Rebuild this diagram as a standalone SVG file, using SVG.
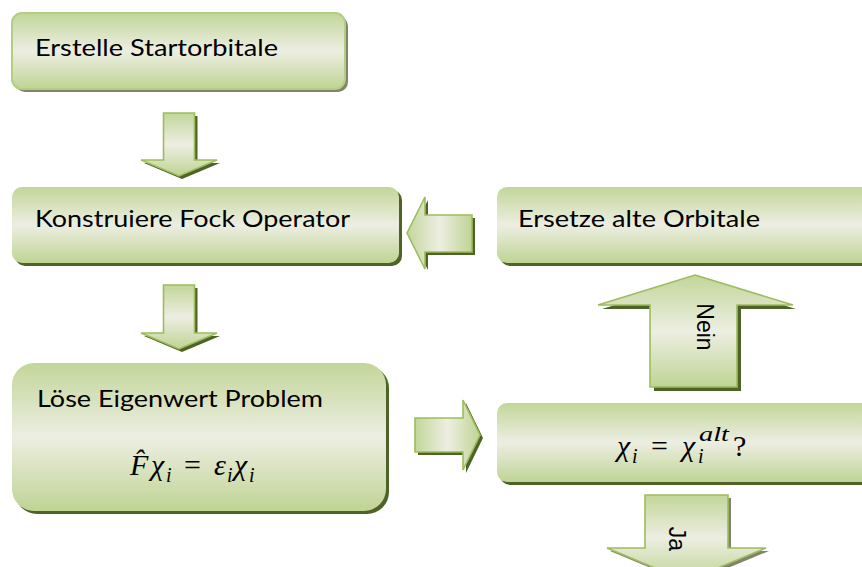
<svg xmlns="http://www.w3.org/2000/svg" width="862" height="567" viewBox="0 0 862 567">
  <defs>
    <!-- vertical sheen used by boxes and vertical arrows -->
    <linearGradient id="gV" x1="0" y1="0" x2="0" y2="1">
      <stop offset="0" stop-color="#c2d699"/>
      <stop offset="0.5" stop-color="#edeee2"/>
      <stop offset="1" stop-color="#bfd494"/>
    </linearGradient>
    <!-- horizontal sheen used by left/right arrows -->
    <linearGradient id="gH" x1="0" y1="0" x2="1" y2="0">
      <stop offset="0" stop-color="#c2d699"/>
      <stop offset="0.5" stop-color="#edeee2"/>
      <stop offset="1" stop-color="#bfd494"/>
    </linearGradient>
    <style>
      .box { fill: url(#gV); }
      .shadow { fill: #4f6228; }
      .gshadow { fill: #80846c; }
      .arrV { fill: url(#gV); stroke: #9dbd5c; stroke-width: 1.6; stroke-linejoin: miter; }
      .arrH { fill: url(#gH); stroke: #9dbd5c; stroke-width: 1.6; stroke-linejoin: miter; }
      .lbl { font-family: Lato, "Noto Sans", "Liberation Sans", sans-serif; font-size: 23px; fill: #000; }
      .math { font-family: "Liberation Serif", "DejaVu Serif", serif; font-style: italic; font-size: 30px; fill: #000; }
      .up { font-style: normal; }
      .sub { font-size: 20px; }
      .side { font-family: "Liberation Sans", Arial, sans-serif; font-size: 23px; fill: #000; }
    </style>
  </defs>

  <!-- connectors -->
  <g id="connectors">
    <!-- start -> Fock -->
    <g id="arrow-start-fock">
      <path class="shadow" d="M166.5,116 H197.5 V163 H220 L182,179 L144,163 H166.5 Z"/>
      <path class="arrV" d="M163.5,113 H194.5 V160 H217 L179,176 L141,160 H163.5 Z"/>
    </g>
    <!-- Fock -> eigenvalue -->
    <g id="arrow-fock-eigen">
      <path class="shadow" d="M166.5,288 H197.5 V336 H220 L182,352 L144,336 H166.5 Z"/>
      <path class="arrV" d="M163.5,285 H194.5 V333 H217 L179,349 L141,333 H163.5 Z"/>
    </g>
    <!-- replace orbitals -> Fock -->
    <g id="arrow-replace-fock">
      <path class="shadow" d="M410,236 L428,200 V218 H475 V255 H428 V270 Z"/>
      <path class="arrH" d="M407,233 L425,197 V215 H472 V252 H425 V269 Z"/>
    </g>
    <!-- eigenvalue -> check -->
    <g id="arrow-eigen-check">
      <path class="shadow" d="M418,421 H466 V403 L483,438 L466,473 V455 H418 Z"/>
      <path class="arrH" d="M415,418 H463 V400 L480,435 L463,470 V452 H415 Z"/>
    </g>
    <!-- check -> replace (Nein) -->
    <g id="arrow-nein">
      <path class="shadow" d="M698,279 L796,309 H741 V391 H654 V309 H602 Z"/>
      <path class="arrV" d="M695,275 L793,305 H737 V387 H650 V305 H598 Z"/>
      <text class="side" transform="translate(697,327) rotate(90)" text-anchor="middle">Nein</text>
    </g>
    <!-- check -> done (Ja) -->
    <g id="arrow-ja">
      <path class="gshadow" d="M648,498 H731 V551 H769 L689,584 L610,551 H648 Z"/>
      <path class="arrV" d="M645,495 H728 V548 H766 L686,581 L607,548 H645 Z"/>
      <text class="side" transform="translate(669,539) rotate(90)" text-anchor="middle">Ja</text>
    </g>
  </g>

  <!-- nodes -->
  <g id="node-start">
    <rect class="gshadow" x="15" y="16" width="333" height="76" rx="10"/>
    <rect class="box" x="12" y="13" width="333" height="76" rx="10" stroke="#b3cd82" stroke-width="2"/>
    <text class="lbl" x="35" y="56" textLength="243" lengthAdjust="spacingAndGlyphs">Erstelle Startorbitale</text>
  </g>

  <g id="node-fock">
    <rect class="shadow" x="15" y="190" width="387" height="76" rx="10"/>
    <rect class="box" x="12" y="187" width="387" height="76" rx="10"/>
    <text class="lbl" x="35" y="227" textLength="315" lengthAdjust="spacingAndGlyphs">Konstruiere Fock Operator</text>
  </g>

  <g id="node-replace">
    <rect class="shadow" x="500" y="190" width="400" height="76" rx="10"/>
    <rect class="box" x="497" y="187" width="400" height="76" rx="10"/>
    <text class="lbl" x="518" y="227" textLength="242" lengthAdjust="spacingAndGlyphs">Ersetze alte Orbitale</text>
  </g>

  <g id="node-eigen">
    <rect class="shadow" x="15" y="366" width="374" height="148" rx="22"/>
    <rect class="box" x="12" y="363" width="374" height="148" rx="22"/>
    <text class="lbl" x="37" y="407" textLength="286" lengthAdjust="spacingAndGlyphs">Löse Eigenwert Problem</text>
    <g id="eq-eigen">
      <text class="math" x="130" y="475">F̂</text>
      <text class="math" x="151" y="475">χ</text>
      <text class="math sub" x="166" y="482">i</text>
      <text class="math up" x="184" y="475">=</text>
      <text class="math" x="214" y="475">ε</text>
      <text class="math sub" x="227" y="482">i</text>
      <text class="math" x="234" y="475">χ</text>
      <text class="math sub" x="249" y="482">i</text>
    </g>
  </g>

  <g id="node-check">
    <rect class="shadow" x="500" y="406" width="400" height="79" rx="10"/>
    <rect class="box" x="497" y="403" width="400" height="79" rx="10"/>
    <g id="eq-check">
      <text class="math" x="617" y="456">χ</text>
      <text class="math sub" x="632" y="463">i</text>
      <text class="math up" x="651" y="456">=</text>
      <text class="math" x="682" y="456">χ</text>
      <text class="math sub" x="699" y="441" textLength="30" lengthAdjust="spacingAndGlyphs">alt</text>
      <text class="math sub" x="698" y="463">i</text>
      <text class="math up" x="733" y="456">?</text>
    </g>
  </g>
</svg>
